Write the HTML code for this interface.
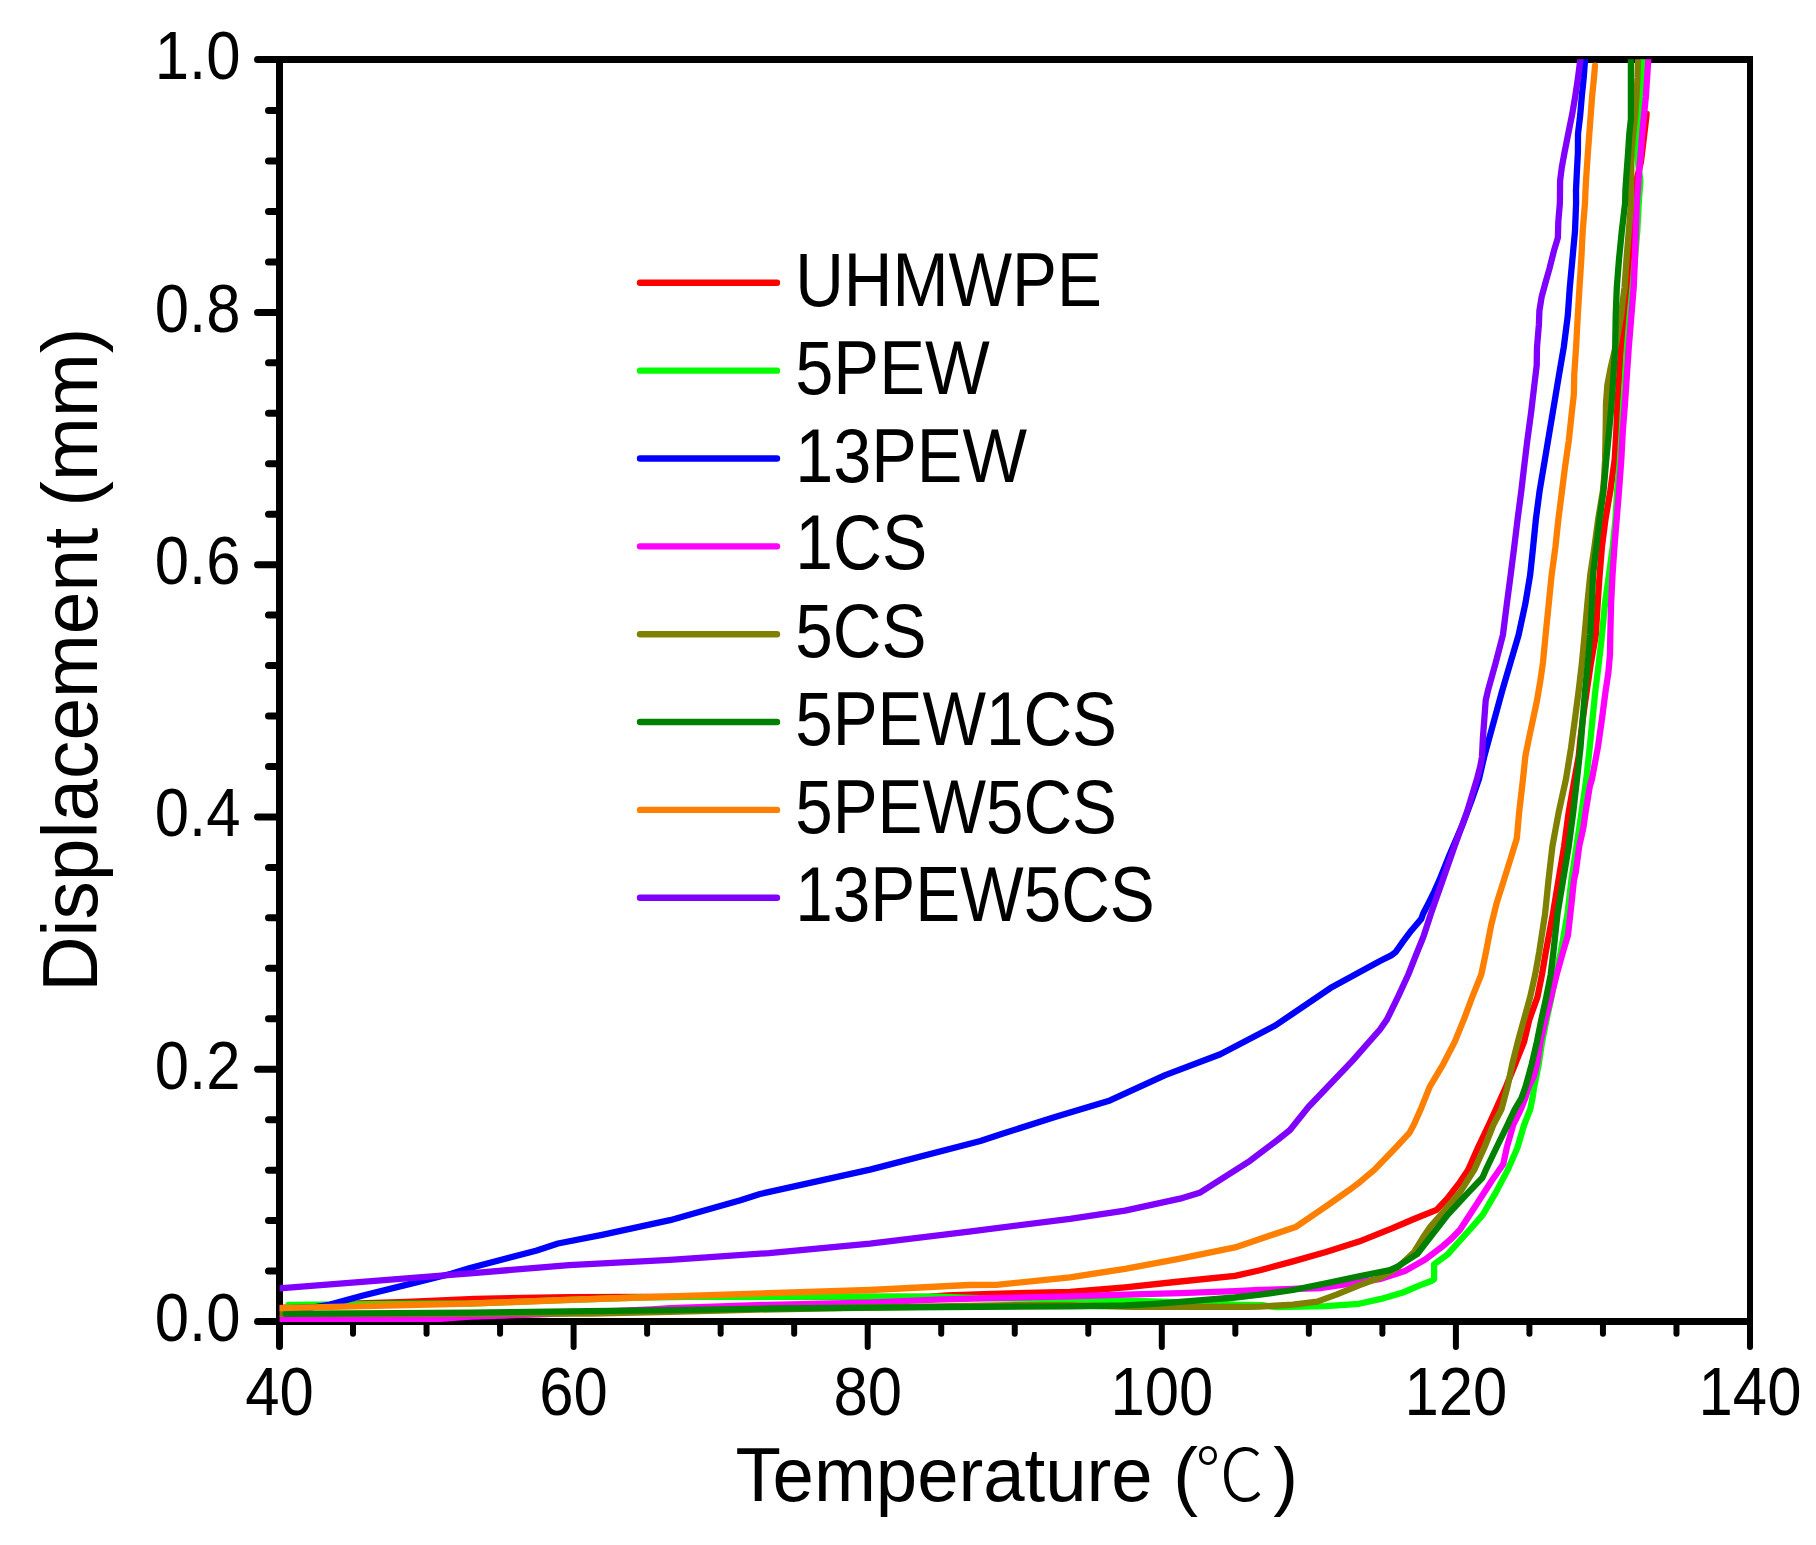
<!DOCTYPE html>
<html lang="en">
<head>
<meta charset="utf-8">
<title>Displacement vs Temperature</title>
<style>
html,body{margin:0;padding:0;background:#fff;}
body{width:1816px;height:1545px;overflow:hidden;}
svg{display:block;}
text{font-family:"Liberation Sans",sans-serif;fill:#000;}
.cjk{font-family:"Liberation Sans","Noto Sans CJK SC",sans-serif;font-weight:300;}
</style>
</head>
<body>
<svg width="1816" height="1545" viewBox="0 0 1816 1545">
<rect x="0" y="0" width="1816" height="1545" fill="#ffffff"/>
<defs><clipPath id="plot"><rect x="279.60" y="59.20" width="1473.50" height="1265.80"/></clipPath></defs>
<g stroke="#000" fill="none" stroke-linecap="butt">
<path d="M276 59.50 H1753" stroke-width="7"/>
<path d="M276 1321.50 H1753" stroke-width="7"/>
<path d="M279.50 56 V1325" stroke-width="7"/>
<path d="M1750.00 56 V1325" stroke-width="6"/>
</g>
<g stroke="#000" fill="none" stroke-linecap="round" stroke-width="7">
<path d="M278 1321.50 H257.50"/>
<path d="M278 1271.04 H268.50"/>
<path d="M278 1220.59 H268.50"/>
<path d="M278 1170.13 H268.50"/>
<path d="M278 1119.68 H268.50"/>
<path d="M278 1069.22 H257.50"/>
<path d="M278 1018.76 H268.50"/>
<path d="M278 968.31 H268.50"/>
<path d="M278 917.85 H268.50"/>
<path d="M278 867.40 H268.50"/>
<path d="M278 816.94 H257.50"/>
<path d="M278 766.48 H268.50"/>
<path d="M278 716.03 H268.50"/>
<path d="M278 665.57 H268.50"/>
<path d="M278 615.12 H268.50"/>
<path d="M278 564.66 H257.50"/>
<path d="M278 514.20 H268.50"/>
<path d="M278 463.75 H268.50"/>
<path d="M278 413.29 H268.50"/>
<path d="M278 362.84 H268.50"/>
<path d="M278 312.38 H257.50"/>
<path d="M278 261.92 H268.50"/>
<path d="M278 211.47 H268.50"/>
<path d="M278 161.01 H268.50"/>
<path d="M278 110.56 H268.50"/>
<path d="M278 59.50 H257.50"/>
</g>
<g stroke="#000" fill="none" stroke-linecap="round" stroke-width="6">
<path d="M279.50 1323 V1346.50" stroke-width="7"/>
<path d="M353.02 1323 V1333.80"/>
<path d="M426.55 1323 V1333.80"/>
<path d="M500.07 1323 V1333.80"/>
<path d="M573.60 1323 V1347.00"/>
<path d="M647.12 1323 V1333.80"/>
<path d="M720.65 1323 V1333.80"/>
<path d="M794.17 1323 V1333.80"/>
<path d="M867.70 1323 V1347.00"/>
<path d="M941.23 1323 V1333.80"/>
<path d="M1014.75 1323 V1333.80"/>
<path d="M1088.28 1323 V1333.80"/>
<path d="M1161.80 1323 V1347.00"/>
<path d="M1235.33 1323 V1333.80"/>
<path d="M1308.85 1323 V1333.80"/>
<path d="M1382.38 1323 V1333.80"/>
<path d="M1455.90 1323 V1347.00"/>
<path d="M1529.42 1323 V1333.80"/>
<path d="M1602.95 1323 V1333.80"/>
<path d="M1676.47 1323 V1333.80"/>
<path d="M1750.00 1323 V1347.00"/>
</g>
<g clip-path="url(#plot)" fill="none" stroke-width="6.30" stroke-linejoin="round" stroke-linecap="round">
<polyline stroke="#ff0000" points="279.2,1308.0 330.0,1306.0 358.7,1303.3 407.0,1301.8 475.0,1298.9 569.0,1297.1 644.0,1296.9 870.0,1297.0 930.0,1296.7 947.0,1295.3 991.0,1293.8 1070.0,1292.0 1125.0,1287.3 1180.0,1281.5 1235.0,1275.9 1260.0,1270.2 1293.0,1261.4 1326.0,1252.0 1359.0,1241.6 1392.0,1228.4 1414.0,1219.0 1436.6,1209.8 1447.2,1198.6 1460.0,1182.1 1468.1,1169.9 1478.0,1147.5 1488.7,1125.0 1495.9,1109.3 1506.0,1086.8 1515.1,1064.3 1524.1,1041.9 1529.4,1019.4 1537.5,996.9 1542.0,974.5 1545.8,952.0 1552.9,913.8 1558.5,880.1 1564.1,846.4 1568.6,812.7 1574.5,779.0 1578.6,756.7 1580.5,738.0 1583.4,714.6 1586.7,691.2 1590.9,663.1 1595.8,635.0 1597.7,603.4 1599.6,575.3 1601.9,547.2 1605.5,519.1 1610.3,491.0 1614.7,459.4 1616.3,431.3 1617.5,403.2 1619.4,375.1 1621.1,347.0 1625.8,315.4 1630.3,276.3 1632.3,241.0 1634.5,203.0 1636.4,180.7 1640.9,162.0 1643.2,143.3 1646.0,119.9 1646.6,114.0"/>
<polyline stroke="#00ff00" points="288.5,1305.0 470.0,1303.5 580.0,1299.5 640.0,1297.5 690.0,1296.8 870.0,1296.7 936.0,1296.7 978.0,1298.2 1070.0,1299.2 1136.0,1301.0 1200.0,1303.0 1235.0,1304.6 1262.0,1305.2 1275.0,1307.0 1326.0,1306.2 1359.0,1303.8 1381.0,1298.9 1403.0,1292.5 1419.7,1285.4 1431.3,1281.0 1434.1,1279.3 1434.1,1264.2 1447.2,1254.8 1452.7,1248.6 1462.8,1237.3 1472.9,1226.1 1482.7,1214.9 1495.9,1192.4 1507.7,1169.9 1517.5,1147.5 1524.1,1125.0 1530.2,1109.3 1532.5,1098.0 1534.2,1086.8 1538.7,1064.3 1542.1,1041.9 1546.6,1019.4 1551.6,996.9 1555.6,974.5 1560.8,952.0 1567.5,913.8 1571.4,880.1 1576.5,846.4 1581.5,812.7 1586.3,779.0 1589.7,747.4 1592.5,719.3 1595.3,691.2 1598.8,663.1 1602.0,635.0 1605.0,603.4 1608.9,575.3 1612.7,547.2 1615.5,519.1 1617.1,491.0 1620.0,459.4 1621.7,431.3 1623.3,403.2 1625.2,375.1 1627.0,347.0 1629.7,315.4 1633.0,282.6 1635.4,253.6 1637.3,231.1 1638.7,203.0 1640.4,181.0 1636.8,152.6 1637.5,130.0 1639.9,98.3 1641.8,78.8 1643.1,59.0 1643.6,50.0"/>
<polyline stroke="#0000ff" points="279.2,1308.3 312.0,1307.5 330.0,1304.5 352.0,1298.5 363.1,1295.5 407.2,1284.6 451.2,1273.8 470.0,1268.0 536.0,1250.7 558.0,1243.5 602.0,1234.9 670.0,1220.2 714.0,1207.7 740.5,1200.2 760.0,1194.0 870.0,1169.6 980.4,1141.0 1000.0,1134.5 1055.0,1117.0 1110.0,1100.4 1165.2,1075.1 1220.3,1054.2 1275.3,1025.5 1330.4,988.1 1380.0,961.0 1391.2,955.4 1395.7,952.0 1402.8,941.9 1411.2,930.7 1421.3,918.9 1423.1,913.8 1428.8,902.6 1434.4,891.3 1439.4,880.1 1448.4,857.6 1462.8,823.9 1471.2,801.5 1479.0,779.0 1484.2,756.7 1489.3,738.0 1494.4,719.3 1502.1,691.2 1510.3,663.1 1518.6,635.0 1525.4,603.4 1530.1,575.3 1533.1,547.2 1535.9,519.1 1539.6,491.0 1544.9,459.4 1549.6,431.3 1554.3,403.2 1559.0,375.1 1563.8,347.0 1567.8,315.4 1569.8,287.3 1572.4,259.2 1575.0,231.1 1576.1,203.0 1576.0,190.1 1576.9,171.4 1577.9,152.6 1578.0,133.9 1580.2,115.2 1581.8,96.5 1583.7,77.7 1585.1,59.0 1585.6,50.0"/>
<polyline stroke="#ff00ff" points="279.2,1318.8 440.0,1318.8 470.0,1316.5 540.0,1314.3 652.0,1309.3 670.0,1308.1 769.0,1304.8 870.0,1302.6 936.0,1299.7 991.0,1298.2 1070.0,1296.4 1125.0,1294.7 1180.0,1293.1 1235.0,1291.2 1260.0,1290.0 1321.7,1288.0 1353.6,1283.2 1381.0,1278.8 1404.9,1271.0 1425.2,1259.5 1441.7,1247.1 1451.6,1238.5 1460.0,1229.7 1477.1,1203.6 1491.4,1181.2 1503.2,1164.3 1506.8,1147.5 1513.2,1125.0 1520.8,1109.3 1525.3,1098.0 1528.6,1086.8 1534.2,1075.6 1537.0,1064.3 1540.4,1041.9 1545.5,1019.4 1551.1,996.9 1556.7,974.5 1563.0,952.0 1568.0,935.0 1571.0,908.0 1574.0,880.0 1575.8,872.0 1579.2,846.4 1583.4,827.6 1585.5,812.7 1589.8,786.3 1592.0,779.0 1598.1,746.0 1601.9,719.3 1605.6,691.2 1608.4,672.5 1610.0,653.7 1610.3,635.0 1611.1,603.4 1612.5,575.3 1614.4,547.2 1616.7,519.1 1619.0,491.0 1621.3,459.4 1622.8,431.3 1625.0,403.2 1626.9,375.1 1628.8,347.0 1631.4,315.4 1633.7,287.3 1634.9,259.2 1635.8,231.1 1636.8,203.0 1637.8,190.1 1639.1,171.4 1640.8,152.6 1642.2,133.9 1644.0,115.2 1645.9,96.5 1648.3,59.0 1648.6,50.0"/>
<polyline stroke="#808000" points="279.2,1313.8 470.0,1313.8 590.0,1313.5 670.0,1311.8 719.6,1310.5 757.0,1309.6 870.0,1307.5 936.0,1306.5 1013.0,1305.2 1070.0,1305.2 1100.0,1306.0 1134.0,1306.9 1250.0,1306.9 1260.0,1306.6 1293.0,1304.6 1317.3,1301.6 1337.0,1294.4 1359.0,1285.4 1381.0,1277.4 1397.7,1267.5 1414.2,1252.0 1423.1,1237.3 1430.8,1226.1 1440.9,1214.9 1460.0,1192.4 1474.2,1169.9 1484.4,1147.5 1493.3,1125.0 1501.5,1109.3 1507.5,1086.8 1512.2,1064.3 1517.8,1041.9 1524.0,1019.4 1530.2,996.9 1535.2,974.5 1539.2,952.0 1545.1,913.8 1548.5,880.1 1552.4,846.4 1558.6,812.7 1566.0,779.0 1571.1,747.4 1574.9,719.3 1578.6,691.2 1581.9,663.1 1584.6,635.0 1587.4,603.4 1590.2,575.3 1594.4,547.2 1598.2,519.1 1602.9,491.0 1604.1,478.1 1605.1,459.4 1605.5,440.6 1605.8,421.9 1606.0,403.2 1607.4,384.5 1611.1,365.7 1615.6,347.0 1618.6,329.4 1621.1,315.4 1622.7,301.3 1624.6,287.3 1626.5,259.2 1628.8,231.1 1631.1,203.0 1631.0,190.1 1631.3,171.4 1631.5,152.6 1633.2,133.9 1635.2,115.2 1636.5,96.5 1637.5,77.7 1638.0,59.0 1638.0,50.0"/>
<polyline stroke="#008000" points="285.5,1313.8 470.0,1312.6 670.0,1310.1 769.0,1308.5 870.0,1307.7 980.0,1306.8 1070.0,1306.3 1125.0,1305.5 1158.0,1303.6 1202.0,1300.2 1235.0,1297.5 1260.0,1294.7 1293.0,1290.0 1326.0,1283.4 1359.0,1276.3 1390.0,1270.2 1397.1,1266.8 1417.0,1254.2 1430.2,1237.3 1447.6,1214.9 1468.4,1192.4 1482.4,1177.8 1485.8,1169.9 1496.5,1147.5 1507.5,1125.0 1514.8,1109.3 1521.5,1098.0 1525.5,1086.8 1531.7,1064.3 1536.9,1041.9 1541.4,1019.4 1546.3,996.9 1550.7,974.5 1553.4,952.0 1557.5,913.8 1563.1,880.1 1568.7,846.4 1573.2,812.7 1577.0,779.0 1580.5,747.4 1582.7,719.3 1585.0,691.2 1587.8,663.1 1590.2,635.0 1591.9,603.4 1593.0,575.3 1596.3,547.2 1599.6,519.1 1603.5,491.0 1606.3,459.4 1609.1,431.3 1611.6,403.2 1613.5,375.1 1615.2,347.0 1615.7,315.4 1616.8,287.3 1619.0,259.2 1621.8,231.1 1625.1,203.0 1625.4,190.1 1626.7,171.4 1628.1,152.6 1629.3,133.9 1630.9,119.0 1630.9,59.0 1630.9,50.0"/>
<polyline stroke="#ff8000" points="279.2,1308.1 470.0,1303.7 569.0,1299.9 670.0,1296.5 769.0,1293.2 870.0,1290.0 969.0,1285.0 996.7,1284.8 1070.0,1277.3 1125.0,1268.8 1180.0,1258.6 1235.0,1247.4 1260.0,1239.0 1296.3,1226.7 1326.0,1206.3 1348.0,1190.9 1360.0,1181.9 1374.3,1169.9 1395.9,1147.5 1409.4,1132.9 1413.7,1125.0 1420.7,1109.3 1429.7,1086.8 1443.1,1064.3 1454.7,1041.9 1463.9,1019.4 1472.3,996.9 1481.3,974.5 1486.0,952.0 1491.2,925.0 1496.8,902.6 1503.9,880.1 1510.9,857.6 1516.8,838.5 1519.1,812.7 1523.0,779.0 1525.3,756.7 1529.0,738.0 1533.0,719.3 1537.0,700.5 1540.2,681.8 1542.9,663.1 1545.6,635.0 1548.8,603.4 1551.6,575.3 1555.4,547.2 1558.4,519.1 1562.0,491.0 1564.8,468.7 1568.8,440.6 1571.8,412.5 1573.9,393.8 1574.2,375.1 1576.1,347.0 1577.8,315.4 1579.5,287.3 1581.3,259.2 1582.7,231.1 1585.0,203.0 1585.5,190.1 1586.6,171.4 1587.9,152.6 1589.3,133.9 1590.7,115.2 1592.1,96.5 1594.0,77.7 1595.0,65.6"/>
<polyline stroke="#8000ff" points="279.2,1288.4 470.0,1273.3 569.0,1265.1 670.0,1259.9 769.0,1253.1 870.0,1243.7 969.0,1231.6 1070.0,1218.9 1125.0,1210.7 1180.0,1198.7 1199.6,1192.8 1250.0,1160.8 1277.5,1140.0 1290.0,1130.0 1308.4,1107.0 1352.4,1060.8 1380.0,1029.5 1387.0,1019.4 1398.0,996.9 1408.3,974.5 1417.2,952.0 1423.6,936.3 1430.9,913.8 1442.7,880.1 1454.5,846.4 1466.8,812.7 1477.0,779.0 1480.3,766.1 1482.0,756.7 1482.9,738.0 1484.3,719.3 1485.7,700.5 1487.8,691.2 1495.6,663.1 1502.9,635.0 1506.9,603.4 1510.6,575.3 1514.2,547.2 1517.6,519.1 1521.3,491.0 1523.9,468.7 1527.3,440.6 1531.1,412.5 1534.4,384.5 1536.7,365.7 1537.0,347.0 1538.9,324.7 1539.4,310.7 1541.7,296.6 1545.5,282.6 1549.5,268.5 1554.2,249.8 1557.9,237.6 1558.3,221.7 1559.9,203.0 1560.1,180.7 1561.9,166.7 1564.5,152.6 1568.2,133.9 1572.0,115.2 1575.2,96.5 1578.0,77.7 1580.4,59.0 1581.2,50.0"/>
</g>
<g stroke-width="6.40" stroke-linecap="round" fill="none">
<path d="M640.00 282.80 H777.00" stroke="#ff0000"/>
<path d="M640.00 370.65 H777.00" stroke="#00ff00"/>
<path d="M640.00 458.50 H777.00" stroke="#0000ff"/>
<path d="M640.00 546.35 H777.00" stroke="#ff00ff"/>
<path d="M640.00 634.20 H777.00" stroke="#808000"/>
<path d="M640.00 722.05 H777.00" stroke="#008000"/>
<path d="M640.00 809.90 H777.00" stroke="#ff8000"/>
<path d="M640.00 897.75 H777.00" stroke="#8000ff"/>
</g>
<text transform="translate(795.20 305.80) scale(0.8758 1)" font-size="76.90">UHMWPE</text>
<text transform="translate(795.20 393.65) scale(0.8926 1)" font-size="76.90">5PEW</text>
<text transform="translate(795.20 481.50) scale(0.8892 1)" font-size="76.90">13PEW</text>
<text transform="translate(795.20 569.35) scale(0.8827 1)" font-size="76.90">1CS</text>
<text transform="translate(795.20 657.20) scale(0.8779 1)" font-size="76.90">5CS</text>
<text transform="translate(795.20 745.05) scale(0.8757 1)" font-size="76.90">5PEW1CS</text>
<text transform="translate(795.20 832.90) scale(0.8757 1)" font-size="76.90">5PEW5CS</text>
<text transform="translate(795.20 920.75) scale(0.8767 1)" font-size="76.90">13PEW5CS</text>
<text transform="translate(240.50 1340.80) scale(0.9050 1)" font-size="68.10" text-anchor="end">0.0</text>
<text transform="translate(240.50 1088.52) scale(0.9050 1)" font-size="68.10" text-anchor="end">0.2</text>
<text transform="translate(240.50 836.24) scale(0.9050 1)" font-size="68.10" text-anchor="end">0.4</text>
<text transform="translate(240.50 583.96) scale(0.9050 1)" font-size="68.10" text-anchor="end">0.6</text>
<text transform="translate(240.50 331.68) scale(0.9050 1)" font-size="68.10" text-anchor="end">0.8</text>
<text transform="translate(240.50 78.80) scale(0.9050 1)" font-size="68.10" text-anchor="end">1.0</text>
<text transform="translate(279.50 1415.30) scale(0.9050 1)" font-size="68.10" text-anchor="middle">40</text>
<text transform="translate(573.60 1415.30) scale(0.9050 1)" font-size="68.10" text-anchor="middle">60</text>
<text transform="translate(867.70 1415.30) scale(0.9050 1)" font-size="68.10" text-anchor="middle">80</text>
<text transform="translate(1161.80 1415.30) scale(0.9050 1)" font-size="68.10" text-anchor="middle">100</text>
<text transform="translate(1455.90 1415.30) scale(0.9050 1)" font-size="68.10" text-anchor="middle">120</text>
<text transform="translate(1750.00 1415.30) scale(0.9050 1)" font-size="68.10" text-anchor="middle">140</text>
<text transform="translate(735.40 1500.50) scale(0.9667 1)" font-size="76.90">Temperature (<tspan class="cjk" font-size="71.50" dx="-3.10" dy="-1.00">℃</tspan><tspan dx="9.30" dy="1.00">)</tspan></text>
<text transform="translate(97.00 991.80) rotate(-90) scale(0.9963 1.0000)" font-size="76.90">Displacement (mm)</text>
</svg>
</body>
</html>
